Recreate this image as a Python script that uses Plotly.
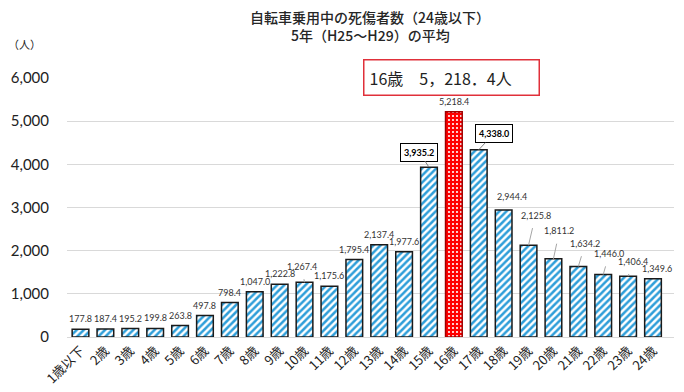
import plotly.graph_objects as go

categories = ["1歳以下", "2歳", "3歳", "4歳", "5歳", "6歳", "7歳", "8歳", "9歳", "10歳", "11歳", "12歳",
              "13歳", "14歳", "15歳", "16歳", "17歳", "18歳", "19歳", "20歳", "21歳", "22歳", "23歳", "24歳"]
values = [177.8, 187.4, 195.2, 199.8, 263.8, 497.8, 798.4, 1047.0, 1222.8, 1267.4, 1175.6, 1795.4,
          2137.4, 1977.6, 3935.2, 5218.4, 4338.0, 2944.4, 2125.8, 1811.2, 1634.2, 1446.0, 1406.4, 1349.6]
highlight = "16歳"
boxed = ["15歳", "17歳"]
y_ticks = [0, 1000, 2000, 3000, 4000, 5000, 6000]

title_line1 = "自転車乗用中の死傷者数（24歳以下）"
title_line2 = "5年（H25～H29）の平均"
unit_text = "（人）"

# label offsets in pixels (ax, ay, leader line) for labels placed away from bar top
label_offsets = {
    "10歳": (-3, -16, True),
    "15歳": (-10, -15, True),
    "17歳": (15, -16, True),
    "18歳": (8, -13, False),
    "19歳": (7, -30, True),
    "20歳": (6, -28, True),
    "21歳": (7, -23, True),
    "22歳": (6, -21, True),
    "23歳": (5, -15, True),
    "24歳": (4, -10, False),
}

# The page body has an 8px margin: draw the figure 8px smaller and shift pixel positions.
OFF = 8
W, H = 684 - OFF, 392 - OFF
pl, pr, pt, pb = 67 - OFF, 10, 78 - OFF, 55
pw, ph = W - pl - pr, H - pt - pb


def px_to_paper(x, y):
    # x, y in reference picture pixels
    return (x - OFF - pl) / pw, (H - pb - (y - OFF)) / ph


stripe_blue = "#2E9ED9"
reg_x = [c for c in categories if c != highlight]
reg_y = [v for c, v in zip(categories, values) if c != highlight]
hi_x = [highlight]
hi_y = [values[categories.index(highlight)]]

fig = go.Figure()
fig.add_trace(go.Bar(
    x=reg_x, y=reg_y,
    marker=dict(
        color="white",
        line=dict(color="#1a1a1a", width=1.5),
        pattern=dict(shape="/", fgcolor=stripe_blue, fgopacity=1, size=5, solidity=0.5, fillmode="overlay"),
    ),
    hoverinfo="skip",
))
fig.add_trace(go.Bar(
    x=hi_x, y=hi_y,
    marker=dict(
        color="#FF0000",
        line=dict(color="#A00000", width=1.5),
        pattern=dict(shape=".", fgcolor="white", fgopacity=1, size=4, solidity=0.22, fillmode="overlay"),
    ),
    hoverinfo="skip",
))

annotations = []
num_font = "Lato, Noto Sans, sans-serif"
jp_font = "Noto Sans CJK JP"
for c, v in zip(categories, values):
    txt = f"{v:,.1f}"
    if c in boxed:
        ax, ay, line = label_offsets[c]
        annotations.append(dict(
            x=c, y=v, xref="x", yref="y", text=f"<b>{txt}</b>",
            showarrow=True, arrowhead=0, arrowwidth=1, arrowcolor="#7f7f7f",
            ax=ax, ay=ay, font=dict(family=num_font, size=9, color="#000"),
            bgcolor="white", bordercolor="#000", borderwidth=1, borderpad=3,
        ))
    elif c in label_offsets:
        ax, ay, line = label_offsets[c]
        annotations.append(dict(
            x=c, y=v, xref="x", yref="y", text=txt,
            showarrow=True, arrowhead=0, arrowwidth=1,
            arrowcolor="#a6a6a6" if line else "rgba(0,0,0,0)",
            standoff=0, startstandoff=6,
            ax=ax, ay=ay, font=dict(family=num_font, size=9, color="#333"),
        ))
    else:
        annotations.append(dict(
            x=c, y=v, xref="x", yref="y", text=txt, showarrow=False,
            yanchor="bottom", yshift=3,
            font=dict(family=num_font, size=9, color="#333"),
        ))

hv = values[categories.index(highlight)]
whole, frac = f"{hv:,.1f}".split(".")
big_text = f"{highlight}　{whole.replace(',', '，')}．{frac}人"
bx, by = px_to_paper(451.5, 77)
annotations.append(dict(
    x=bx, y=by, xref="paper", yref="paper", text=big_text, showarrow=False,
    font=dict(family=jp_font, size=16, color="#222"),
    width=164, height=24, align="left", xanchor="center", yanchor="middle",
    bordercolor="#E0303A", borderwidth=1.5, borderpad=5, bgcolor="white",
))
ux, uy = px_to_paper(24, 44)
annotations.append(dict(
    x=ux, y=uy, xref="paper", yref="paper", text=unit_text, showarrow=False,
    xanchor="center", yanchor="middle",
    font=dict(family=jp_font, size=11, color="#222"),
))
for txt, ypix in [(title_line1, 17), (title_line2, 35)]:
    tx, ty = px_to_paper(370, ypix)
    annotations.append(dict(
        x=tx, y=ty, xref="paper", yref="paper", text=txt, showarrow=False,
        xanchor="center", yanchor="middle",
        font=dict(family=jp_font, size=14, color="#262626", weight=500),
    ))

fig.update_layout(
    width=W, height=H,
    margin=dict(l=pl, r=pr, t=pt, b=pb, autoexpand=False),
    paper_bgcolor="white", plot_bgcolor="white",
    barmode="overlay",
    bargap=0.33,
    showlegend=False,
    annotations=annotations,
    xaxis=dict(
        categoryorder="array", categoryarray=categories,
        tickangle=-45, tickfont=dict(family=jp_font, size=13, color="#222"),
        showline=True, linecolor="#d9d9d9", linewidth=1, ticks="", automargin=False,
    ),
    yaxis=dict(
        range=[0, 6000], tickvals=y_ticks, tickformat=",",
        tickfont=dict(family=num_font, size=15, color="#222"),
        showgrid=True, gridcolor="#d9d9d9", gridwidth=1, zeroline=False,
        ticklabelstandoff=17, automargin=False, showline=False,
    ),
)

fig.write_html("out.html")
